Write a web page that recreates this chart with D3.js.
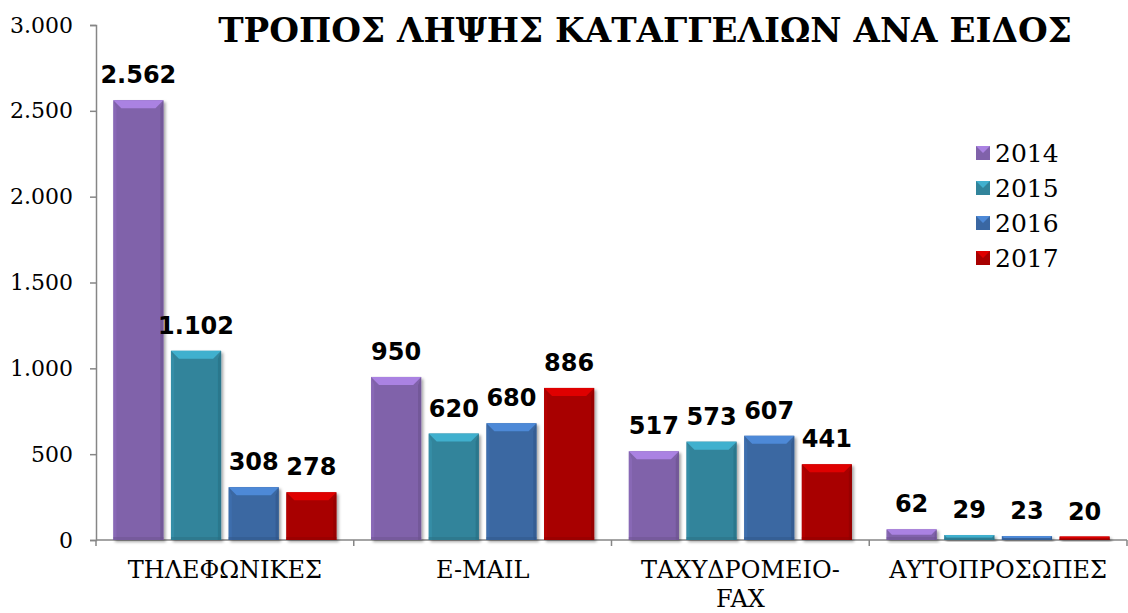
<!DOCTYPE html>
<html>
<head>
<meta charset="utf-8">
<script src="https://cdn.jsdelivr.net/npm/d3@7"></script>
<style>
  body { margin: 0; background: #fff; }
  svg { display: block; }
</style>
</head>
<body>
<svg id="chart" width="1128" height="613"></svg>
<script>
// chart data
let categories = ["ΤΗΛΕΦΩΝΙΚΕΣ", "E-MAIL", "ΤΑΧΥΔΡΟΜΕΙΟ-FAX", "ΑΥΤΟΠΡΟΣΩΠΕΣ"];
let years = ["2014", "2015", "2016", "2017"];
let values2014 = [2562, 950, 517, 62];
let values2015 = [1102, 620, 573, 29];
let values2016 = [308, 680, 607, 23];
let values2017 = [278, 886, 441, 20];
let yTicks = [0, 500, 1000, 1500, 2000, 2500, 3000];
let colors = ["#8062aa", "#31849b", "#3a67a2", "#a80000"];
let title = "ΤΡΟΠΟΣ ΛΗΨΗΣ ΚΑΤΑΓΓΕΛΙΩΝ ΑΝΑ ΕΙΔΟΣ";

let series = [values2014, values2015, values2016, values2017];

let svg = d3.select("#chart");
let margin = { left: 96, right: 1, top: 25, bottom: 73 };
let width = 1128 - margin.left - margin.right;
let height = 613 - margin.top - margin.bottom;

let g = svg.append("g").attr("transform", `translate(${margin.left},${margin.top})`);

// greek number format: dot as thousands separator
let fmt = d3.formatLocale({ decimal: ",", thousands: ".", grouping: [3], currency: ["", "€"] }).format(",d");

let x0 = d3.scaleBand().domain(categories).range([0, width]);
let x1 = d3.scaleBand().domain(years).range([0, x0.bandwidth()]).paddingInner(0.13).paddingOuter(0.3);
let y = d3.scaleLinear().domain([0, 3000]).range([height, 0]);

// y axis
let yAxis = g.append("g")
  .call(d3.axisLeft(y).tickValues(yTicks).tickFormat(fmt).tickSize(6).tickPadding(17));
yAxis.select(".domain").attr("stroke", "#868686").attr("stroke-width", 1.5);
yAxis.selectAll(".tick line").attr("stroke", "#868686").attr("stroke-width", 1.5);
yAxis.selectAll("text")
  .attr("font-family", "DejaVu Serif")
  .attr("font-size", 22)
  .attr("fill", "#000");

// x axis with ticks at category boundaries
let xAxis = g.append("g").attr("transform", `translate(0,${height})`);
xAxis.append("line")
  .attr("x1", 0).attr("x2", width)
  .attr("stroke", "#868686").attr("stroke-width", 1.5);
xAxis.selectAll(".bound")
  .data(d3.range(categories.length + 1))
  .enter()
  .append("line")
  .attr("x1", function(i) { return i * x0.step(); })
  .attr("x2", function(i) { return i * x0.step(); })
  .attr("y1", 0).attr("y2", 6)
  .attr("stroke", "#868686").attr("stroke-width", 1.5);

let catLabels = xAxis.selectAll(".cat")
  .data(categories)
  .enter()
  .append("text")
  .attr("x", function(d) { return x0(d) + x0.bandwidth() / 2; })
  .attr("y", 38)
  .attr("text-anchor", "middle")
  .attr("font-family", "DejaVu Serif")
  .attr("font-size", 24)
  .attr("fill", "#000");
catLabels.each(function(d) {
  let parts = d === "ΤΑΧΥΔΡΟΜΕΙΟ-FAX" ? ["ΤΑΧΥΔΡΟΜΕΙΟ-", "FAX"] : [d];
  let t = d3.select(this);
  parts.forEach(function(p, i) {
    t.append("tspan")
      .attr("x", x0(d) + x0.bandwidth() / 2)
      .attr("dy", i === 0 ? 0 : 29)
      .text(p);
  });
});

// shadow filter
let defs = svg.append("defs");
let f = defs.append("filter").attr("id", "shadow").attr("x", "-20%").attr("y", "-20%").attr("width", "150%").attr("height", "150%");
f.append("feDropShadow").attr("dx", 2).attr("dy", 2).attr("stdDeviation", 1.5).attr("flood-color", "#000").attr("flood-opacity", 0.35);

// bevelled bar
function drawBar(sel, x, yTop, w, h, color) {
  let bg = sel.append("g").attr("filter", "url(#shadow)");
  bg.append("rect").attr("x", x).attr("y", yTop).attr("width", w).attr("height", h).attr("fill", color);
  let b = Math.min(8, h / 2, w / 2);
  let light = d3.color(color).brighter(0.8);
  let lightSide = d3.color(color).brighter(0.3);
  let dark = d3.color(color).darker(0.5);
  // top edge
  bg.append("polygon")
    .attr("points", [[x, yTop], [x + w, yTop], [x + w - b, yTop + b], [x + b, yTop + b]].join(" "))
    .attr("fill", light);
  // left edge
  bg.append("polygon")
    .attr("points", [[x, yTop], [x + b * 0.4, yTop + b], [x + b * 0.4, yTop + h], [x, yTop + h]].join(" "))
    .attr("fill", lightSide).attr("opacity", 0.6);
  // right edge
  bg.append("polygon")
    .attr("points", [[x + w, yTop], [x + w - b * 0.4, yTop + b], [x + w - b * 0.4, yTop + h], [x + w, yTop + h]].join(" "))
    .attr("fill", dark).attr("opacity", 0.6);
  // bottom edge
  bg.append("rect")
    .attr("x", x).attr("y", yTop + h - Math.min(3, h / 3)).attr("width", w).attr("height", Math.min(3, h / 3))
    .attr("fill", dark).attr("opacity", 0.5);
}

let bars = g.append("g").attr("class", "bars");
categories.forEach(function(cat, ci) {
  years.forEach(function(yr, si) {
    let v = series[si][ci];
    let bx = x0(cat) + x1(yr);
    let by = y(v);
    drawBar(bars, bx, by, x1.bandwidth(), height - by, colors[si]);
    bars.append("text")
      .attr("x", bx + x1.bandwidth() / 2)
      .attr("y", by - 17)
      .attr("text-anchor", "middle")
      .attr("font-family", "DejaVu Sans")
      .attr("font-weight", "bold")
      .attr("font-size", 24)
      .attr("fill", "#000")
      .text(fmt(v));
  });
});

// title
let titleText = svg.append("text")
  .attr("x", 645)
  .attr("y", 42)
  .attr("text-anchor", "middle")
  .attr("font-family", "DejaVu Serif")
  .attr("font-weight", "bold")
  .attr("font-size", 30)
  .attr("fill", "#000")
  .text(title);
let tw = titleText.node().getComputedTextLength();
if (tw > 0) titleText.attr("font-size", 30 * 854 / tw);

// legend
let legend = svg.append("g").attr("transform", "translate(976,146)");
years.forEach(function(yr, i) {
  let row = legend.append("g").attr("transform", `translate(0,${i * 35})`);
  let s = 14;
  row.append("rect").attr("width", s).attr("height", s).attr("fill", colors[i]);
  row.append("polygon")
    .attr("points", [[0, 0], [s, 0], [s / 2, s / 2]].join(" "))
    .attr("fill", d3.color(colors[i]).brighter(0.8));
  row.append("text")
    .attr("x", 19)
    .attr("y", s / 2)
    .attr("dy", "0.35em")
    .attr("font-family", "DejaVu Serif")
    .attr("font-size", 25)
    .attr("fill", "#000")
    .text(yr);
});
</script>
</body>
</html>
